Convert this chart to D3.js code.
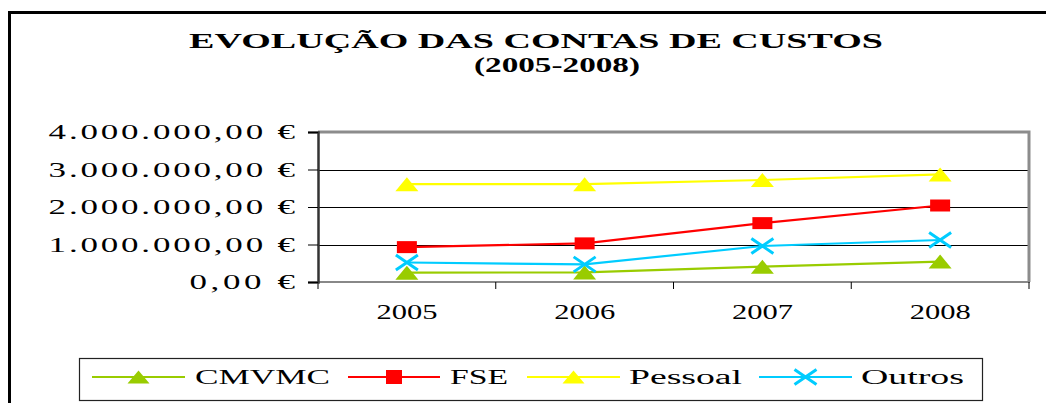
<!DOCTYPE html>
<html>
<head>
<meta charset="utf-8">
<script src="https://cdn.jsdelivr.net/npm/d3@7"></script>
<style>
  body { margin: 0; background: #fff; }
  svg { display: block; }
  text { font-family: "Liberation Serif", "Times New Roman", serif; fill: #000; }
</style>
</head>
<body>
<svg id="chart" width="1046" height="403"></svg>
<script>
// values (euros)
const years = ["2005", "2006", "2007", "2008"];
const cmvmc = [250000, 255000, 410000, 545000];
const fse = [930000, 1030000, 1570000, 2040000];
const pessoal = [2610000, 2610000, 2720000, 2870000];
const outros = [520000, 470000, 960000, 1120000];
const yTicks = [0, 1000000, 2000000, 3000000, 4000000];

const seriesNames = ["CMVMC", "FSE", "Pessoal", "Outros"];
const seriesColors = ["#99cc00", "#ff0000", "#ffff00", "#00ccff"];
const seriesMarkers = ["triangle", "square", "triangle", "cross"];

const series = [cmvmc, fse, pessoal, outros].map((values, i) => ({
    name: seriesNames[i],
    color: seriesColors[i],
    marker: seriesMarkers[i],
    values: values
}));

const svg = d3.select("#chart");

// the original text is wider than the font: stretch it to the measured width
function wideText(parent, x, y, anchor, width, str) {
    return parent.append("text")
        .attr("x", x)
        .attr("y", y)
        .attr("text-anchor", anchor)
        .attr("textLength", width)
        .attr("lengthAdjust", "spacingAndGlyphs")
        .text(str);
}

// outer frame (right/bottom edges run off the picture)
svg.append("rect")
    .attr("x", 9.5).attr("y", 12.5)
    .attr("width", 1200).attr("height", 600)
    .attr("fill", "none")
    .attr("stroke", "#000")
    .attr("stroke-width", 3);

// title
wideText(svg, 536, 48, "middle", 694, "EVOLUÇÃO DAS CONTAS DE CUSTOS")
    .attr("font-weight", "bold")
    .attr("font-size", 22);

wideText(svg, 557, 72, "middle", 166, "(2005-2008)")
    .attr("font-weight", "bold")
    .attr("font-size", 22);

const x = d3.scaleBand().domain(years).range([318, 1029]);
const y = d3.scaleLinear().domain([0, 4000000]).range([282, 132]);
const cx = d => x(d) + x.bandwidth() / 2;

const pt = d3.formatLocale({
    decimal: ",", thousands: ".", grouping: [3], currency: ["", " €"]
});
const fmt = pt.format("$,.2f");

// gridlines
svg.append("g")
    .selectAll("line")
    .data(yTicks.filter(d => d > 0 && d < 4000000))
    .enter()
    .append("line")
    .attr("x1", 318).attr("x2", 1029)
    .attr("y1", d => Math.round(y(d)) + 0.5)
    .attr("y2", d => Math.round(y(d)) + 0.5)
    .attr("stroke", "#000")
    .attr("stroke-width", 1);

// plot border: top and right grey
svg.append("path")
    .attr("d", `M318,${y(4000000)}H1029V${y(0)}`)
    .attr("fill", "none")
    .attr("stroke", "#8c8c8c")
    .attr("stroke-width", 3);

// bottom axis line
svg.append("line")
    .attr("x1", 318).attr("x2", 1030)
    .attr("y1", y(0)).attr("y2", y(0))
    .attr("stroke", "#888")
    .attr("stroke-width", 2);

// x ticks on band boundaries
svg.append("g")
    .selectAll("line")
    .data(years.map(d => x(d)).concat([x.range()[1]]))
    .enter()
    .append("line")
    .attr("x1", d => d).attr("x2", d => d)
    .attr("y1", y(0)).attr("y2", y(0) + 7)
    .attr("stroke", "#000")
    .attr("stroke-width", 1);

// y axis
const ySx = 1.75;
const yAxis = svg.append("g")
    .attr("transform", "translate(318,0)")
    .call(d3.axisLeft(y).tickValues(yTicks).tickSize(10).tickPadding(23).tickFormat(fmt));

yAxis.select(".domain")
    .attr("stroke", "#333")
    .attr("stroke-width", 2.5);
yAxis.selectAll(".tick line").attr("stroke", "#000");
yAxis.selectAll(".tick text")
    .attr("font-size", 20)
    .attr("fill", "#000")
    .attr("dy", "0.34em")
    .attr("x", -23 / ySx)
    .attr("transform", `scale(${ySx},1)`)
    .attr("textLength", d => fmt(d).length * 17.6 / ySx)
    .attr("lengthAdjust", "spacing");

// x labels
const xLabels = svg.append("g");
years.forEach(d => {
    wideText(xLabels, cx(d), 319, "middle", 61, d)
        .attr("font-size", 22);
});

// marker shapes (stretched a little wider than tall, like the original)
function markerPath(type, w, h) {
    const hw = w / 2, hh = h / 2;
    if (type === "triangle") return `M0,${-hh}L${hw},${hh}L${-hw},${hh}Z`;
    if (type === "square") return `M${-hw},${-hh}H${hw}V${hh}H${-hw}Z`;
    return `M${-hw},${-hh}L${hw},${hh}M${hw},${-hh}L${-hw},${hh}`;
}

function drawMarker(sel, s, w, h) {
    const p = sel.append("path").attr("d", markerPath(s.marker, w, h));
    if (s.marker === "cross") {
        p.attr("fill", "none").attr("stroke", s.color).attr("stroke-width", 3);
    } else {
        p.attr("fill", s.color);
    }
}

const line = d3.line().x((d, i) => cx(years[i])).y(d => y(d));

const lines = svg.append("g").attr("class", "series");
series.forEach(s => {
    lines.append("path")
        .attr("d", line(s.values))
        .attr("fill", "none")
        .attr("stroke", s.color)
        .attr("stroke-width", 2.2);
});
series.forEach(s => {
    s.values.forEach((v, i) => {
        const g = lines.append("g")
            .attr("transform", `translate(${cx(years[i])},${y(v)})`);
        const sizes = { triangle: [23, 14], square: [20, 12], cross: [22, 15] };
        drawMarker(g, s, sizes[s.marker][0], sizes[s.marker][1]);
    });
});

// legend
const legend = svg.append("g");
legend.append("rect")
    .attr("x", 79.5).attr("y", 358.5)
    .attr("width", 903).attr("height", 42)
    .attr("fill", "#fff")
    .attr("stroke", "#222")
    .attr("stroke-width", 1.2);

const legendItems = [
    { x0: 92, x1: 185, tx: 195, tw: 135 },
    { x0: 348, x1: 440, tx: 450, tw: 58 },
    { x0: 527, x1: 620, tx: 629, tw: 113 },
    { x0: 759, x1: 852, tx: 861, tw: 103 }
];

series.forEach((s, i) => {
    const it = legendItems[i];
    const ly = 377;
    legend.append("line")
        .attr("x1", it.x0).attr("x2", it.x1)
        .attr("y1", ly).attr("y2", ly)
        .attr("stroke", s.color)
        .attr("stroke-width", 2);
    const g = legend.append("g")
        .attr("transform", `translate(${(it.x0 + it.x1) / 2},${ly})`);
    const sizes = { triangle: [22, 13], square: [16, 14], cross: [22, 15] };
    drawMarker(g, s, sizes[s.marker][0], sizes[s.marker][1]);
    wideText(legend, it.tx, 384, "start", it.tw, s.name)
        .attr("font-size", 20);
});
</script>
</body>
</html>
